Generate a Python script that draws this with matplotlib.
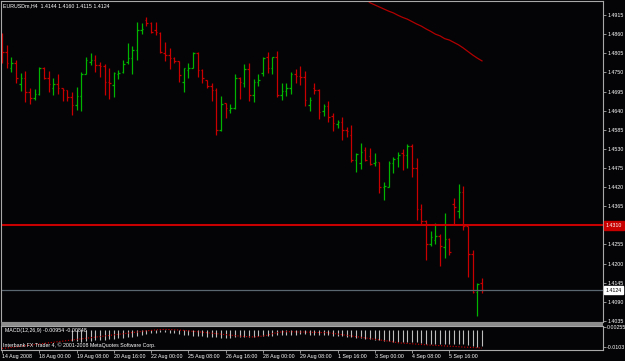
import numpy as np
import matplotlib
matplotlib.use("Agg")
import matplotlib.pyplot as plt
from matplotlib.patches import Rectangle
import matplotlib.transforms as mtransforms

# EURUSDm H4 bars (open, high, low, close)
opens = [1.4829, 1.4809, 1.4763, 1.4777, 1.4717, 1.4734, 1.4694, 1.4676, 1.4688, 1.4763,
         1.4734, 1.4705, 1.4717, 1.4705, 1.4699, 1.4679, 1.4656, 1.4682, 1.4745, 1.4780,
         1.4786, 1.4771, 1.4768, 1.4722, 1.4714, 1.4745, 1.4751, 1.4780, 1.4791, 1.4814,
         1.4872, 1.4901, 1.4892, 1.4872, 1.4863, 1.4806, 1.4800, 1.4791, 1.4783, 1.4722,
         1.4757, 1.4763, 1.4806, 1.4757, 1.4728, 1.4711, 1.4699, 1.4584, 1.4662, 1.4642,
         1.4648, 1.4734, 1.4719, 1.4760, 1.4685, 1.4722, 1.4748, 1.4794, 1.4763, 1.4794,
         1.4685, 1.4696, 1.4705, 1.4745, 1.4740, 1.4737, 1.4656, 1.4705, 1.4699, 1.4639,
         1.4653, 1.4625, 1.4602, 1.4607, 1.4584, 1.4570, 1.4498, 1.4489, 1.4527, 1.4510,
         1.4489, 1.4492, 1.4420, 1.4420, 1.4489, 1.4504, 1.4518, 1.4512, 1.4538, 1.4475,
         1.4357, 1.4323, 1.4256, 1.4268, 1.4279, 1.4248, 1.4271, 1.4371, 1.4351, 1.4406,
         1.4308, 1.4228, 1.4117, 1.4144]
highs = [1.4863, 1.4829, 1.4794, 1.4786, 1.4748, 1.4754, 1.4705, 1.4702, 1.4765, 1.4765,
         1.4754, 1.4734, 1.4745, 1.4705, 1.4699, 1.4694, 1.4708, 1.4751, 1.4794, 1.4806,
         1.4800, 1.4780, 1.4774, 1.4763, 1.4751, 1.4757, 1.4786, 1.4834, 1.4826, 1.4895,
         1.4892, 1.4909, 1.4895, 1.4895, 1.4866, 1.4837, 1.4820, 1.4794, 1.4783, 1.4763,
         1.4777, 1.4809, 1.4809, 1.4760, 1.4728, 1.4719, 1.4705, 1.4682, 1.4662, 1.4659,
         1.4745, 1.4737, 1.4774, 1.4777, 1.4731, 1.4745, 1.4794, 1.4809, 1.4794, 1.4811,
         1.4719, 1.4719, 1.4751, 1.4760, 1.4768, 1.4754, 1.4679, 1.4719, 1.4702, 1.4659,
         1.4668, 1.4633, 1.4613, 1.4622, 1.4593, 1.4599, 1.4518, 1.4547, 1.4535, 1.4533,
         1.4518, 1.4492, 1.4435, 1.4495, 1.4507, 1.4521, 1.4530, 1.4544, 1.4544, 1.4504,
         1.4371, 1.4325, 1.4294, 1.4317, 1.4285, 1.4346, 1.4274, 1.4389, 1.4429, 1.4423,
         1.4308, 1.4239, 1.4144, 1.4160]
lows = [1.4777, 1.4763, 1.4751, 1.4719, 1.4696, 1.4665, 1.4659, 1.4671, 1.4685, 1.4731,
        1.4694, 1.4685, 1.4688, 1.4668, 1.4668, 1.4627, 1.4642, 1.4639, 1.4745, 1.4771,
        1.4751, 1.4737, 1.4685, 1.4673, 1.4679, 1.4731, 1.4748, 1.4774, 1.4745, 1.4786,
        1.4860, 1.4883, 1.4863, 1.4857, 1.4806, 1.4783, 1.4760, 1.4777, 1.4722, 1.4694,
        1.4734, 1.4763, 1.4737, 1.4719, 1.4705, 1.4668, 1.4570, 1.4581, 1.4619, 1.4633,
        1.4645, 1.4673, 1.4708, 1.4668, 1.4665, 1.4711, 1.4740, 1.4748, 1.4745, 1.4679,
        1.4671, 1.4682, 1.4688, 1.4719, 1.4714, 1.4653, 1.4639, 1.4688, 1.4616, 1.4625,
        1.4607, 1.4581, 1.4590, 1.4555, 1.4564, 1.4492, 1.4463, 1.4472, 1.4495, 1.4484,
        1.4481, 1.4403, 1.4383, 1.4420, 1.4461, 1.4478, 1.4469, 1.4475, 1.4449, 1.4325,
        1.4314, 1.4210, 1.4251, 1.4256, 1.4193, 1.4216, 1.4225, 1.4311, 1.4331, 1.4297,
        1.4162, 1.4115, 1.4049, 1.4115]
closes = [1.4809, 1.4777, 1.4777, 1.4734, 1.4734, 1.4694, 1.4676, 1.4688, 1.4763, 1.4734,
          1.4717, 1.4717, 1.4705, 1.4699, 1.4679, 1.4656, 1.4682, 1.4745, 1.4786, 1.4786,
          1.4771, 1.4768, 1.4722, 1.4719, 1.4748, 1.4748, 1.4774, 1.4791, 1.4814, 1.4872,
          1.4875, 1.4892, 1.4866, 1.4866, 1.4809, 1.4800, 1.4791, 1.4783, 1.4742, 1.4763,
          1.4763, 1.4806, 1.4757, 1.4734, 1.4711, 1.4699, 1.4584, 1.4659, 1.4648, 1.4648,
          1.4734, 1.4722, 1.4760, 1.4685, 1.4722, 1.4728, 1.4791, 1.4763, 1.4794, 1.4685,
          1.4696, 1.4705, 1.4745, 1.4740, 1.4737, 1.4671, 1.4671, 1.4699, 1.4636, 1.4653,
          1.4622, 1.4604, 1.4607, 1.4584, 1.4581, 1.4498, 1.4515, 1.4521, 1.4498, 1.4486,
          1.4492, 1.4420, 1.4423, 1.4489, 1.4501, 1.4512, 1.4512, 1.4538, 1.4475, 1.4357,
          1.4323, 1.4256, 1.4277, 1.4279, 1.4251, 1.4271, 1.4233, 1.4363, 1.4406, 1.4308,
          1.4228, 1.4117, 1.4141, 1.4124]

# moving average visible at the top right (bars 78..103)
ma_start = 78
ma_vals = [1.4961, 1.4950, 1.4944, 1.4938, 1.4932, 1.4926, 1.4921, 1.4914, 1.4908, 1.4903,
           1.4896, 1.4889, 1.4883, 1.4875, 1.4868, 1.4860, 1.4855, 1.4847, 1.4843, 1.4836,
           1.4829, 1.4820, 1.4810, 1.4800, 1.4791, 1.4783]

# MACD(12,26,9) panel
macd_hist = [0, 0, 0, 0, 0, 0, 0, 0, 0, 0, 0, 0, 0, 0, 0,
             -0.0065, -0.0068, -0.0070, -0.0068, -0.0065, -0.0062,
             -0.0060, -0.0058, -0.0056, -0.0054, -0.0050, -0.0047, -0.0044, -0.0040, -0.0036, -0.0030,
             -0.0025, -0.0020, -0.0016, -0.0012, -0.0010,
             -0.0015, -0.0020, -0.0025, -0.0030, -0.0032, -0.0034, -0.0036, -0.0038, -0.0040, -0.0042,
             -0.0045, -0.0046, -0.0047, -0.0046, -0.0045, -0.0044, -0.0043, -0.0042, -0.0040, -0.0039,
             -0.0037, -0.0036, -0.0034, -0.0033,
             -0.0032, -0.0030, -0.0029, -0.0028, -0.0027, -0.0027, -0.0028, -0.0029, -0.0030, -0.0031,
             -0.0032,
             -0.0034, -0.0036, -0.0038, -0.0040, -0.0043, -0.0046, -0.0050, -0.0053, -0.0056, -0.0060,
             -0.0063, -0.0066, -0.0068, -0.0070, -0.0071, -0.0072,
             -0.0072, -0.0073, -0.0076, -0.0080, -0.0083, -0.0085, -0.0086, -0.0087, -0.0086, -0.0088,
             -0.0087, -0.0086, -0.0088, -0.0092, -0.0098, -0.0101, -0.0095]
macd_signal = [-0.0112, -0.0110, -0.0106, -0.0103, -0.0099, -0.0096, -0.0092, -0.0089, -0.0085, -0.0082,
               -0.0078, -0.0075, -0.0071, -0.0068, -0.0064, -0.0061, -0.0057, -0.0054, -0.0050, -0.0047,
               -0.0043, -0.0040, -0.0036, -0.0033, -0.0029, -0.0026, -0.0022, -0.0019, -0.0015, -0.0012,
               -0.0008, -0.0005, -0.0002, 0.0001, 0.0003, 0.0004, 0.0003, 0.0002, 0.0000, -0.0002,
               -0.0005, -0.0008, -0.0010, -0.0013, -0.0016, -0.0019, -0.0022, -0.0025, -0.0028, -0.0031,
               -0.0034, -0.0037, -0.0039, -0.0041, -0.0042, -0.0040, -0.0036, -0.0031, -0.0022, -0.0016,
               -0.0011, -0.0010, -0.0010, -0.0011, -0.0012, -0.0012, -0.0013, -0.0014, -0.0015, -0.0015,
               -0.0016, -0.0020, -0.0024, -0.0028, -0.0032, -0.0036, -0.0040, -0.0044, -0.0048, -0.0052,
               -0.0056, -0.0060, -0.0064, -0.0068, -0.0072, -0.0078, -0.0080, -0.0082, -0.0084, -0.0086,
               -0.0088, -0.0090, -0.0092, -0.0094, -0.0095, -0.0097, -0.0099, -0.0100, -0.0102, -0.0104,
               -0.0105, -0.0107, -0.0108, -0.0110]

price_ticks = [1.4915, 1.4860, 1.4805, 1.4750, 1.4695, 1.4640, 1.4585, 1.4530, 1.4475,
               1.4420, 1.4365, 1.4255, 1.4200, 1.4145, 1.4090, 1.4035]
level_price = 1.4310
bid_price = 1.4124

date_labels = ["14 Aug 2008", "18 Aug 00:00", "19 Aug 08:00", "20 Aug 16:00", "22 Aug 00:00",
               "25 Aug 08:00", "26 Aug 16:00", "28 Aug 00:00", "29 Aug 08:00", "1 Sep 16:00",
               "3 Sep 00:00", "4 Sep 08:00", "5 Sep 16:00"]
date_pos = [0, 8, 16, 24, 32, 40, 48, 56, 64, 72, 80, 88, 96]

header = "EURUSDm,H4  1.4144 1.4160 1.4115 1.4124"
macd_text = "MACD(12,26,9) -0.00954 -0.00848"
footer = "Interbank FX Trader 4, \u00a9 2001-2008 MetaQuotes Software Corp."

BG = "#040306"
FG = "white"
FRAME = "#a8a8a8"
GREEN = "#00b400"
RED = "#c80000"
FS = 3.8
plt.rcParams["font.family"] = ["Liberation Sans", "DejaVu Sans"]

W, H = 625, 361
fig = plt.figure(figsize=(W / 100, H / 100), dpi=100, facecolor=BG)


def px_axes(x0, y0, x1, y1):
    # pixel box (top-left origin) -> figure axes
    return fig.add_axes([x0 / W, 1 - y1 / H, (x1 - x0) / W, (y1 - y0) / H])


ax = px_axes(1, 1, 603, 322)
ax2 = px_axes(1, 326, 603, 350)

idx = np.arange(len(opens))
o = np.array(opens)
c = np.array(closes)
cols = [GREEN if cc >= oo else RED for oo, cc in zip(o, c)]

ax.vlines(idx, lows, highs, colors=cols, lw=0.9)
ax.hlines(o, idx - 0.34, idx, colors=cols, lw=0.9)
ax.hlines(c, idx, idx + 0.34, colors=cols, lw=0.9)

ma_idx = np.arange(ma_start, ma_start + len(ma_vals))
ax.plot(ma_idx, ma_vals, color="#b00000", lw=0.9)

ax.axhline(level_price, color=RED, lw=1.5)
ax.axhline(bid_price, color="#5a6670", lw=0.9)

x_lo, x_hi = -0.21, 128.97
ax.set_xlim(x_lo, x_hi)
ax.set_ylim(1.40321, 1.49553)
ax.set_xticks([])
ax.yaxis.tick_right()
ax.set_yticks(price_ticks)
ax.set_yticklabels([f"{p:.4f}" for p in price_ticks])
ax.tick_params(axis="y", colors=FRAME, labelcolor=FG, labelsize=FS, length=2, width=0.6, pad=1)

trans = mtransforms.blended_transform_factory(ax.transAxes, ax.transData)
ax.text(1.004, level_price, "1.4310", transform=trans, ha="left", va="center",
        fontsize=FS, color="white",
        bbox=dict(boxstyle="square,pad=0.35", fc=RED, ec=RED))
ax.text(1.004, bid_price, "1.4124", transform=trans, ha="left", va="center",
        fontsize=FS, color="black",
        bbox=dict(boxstyle="square,pad=0.35", fc="white", ec="white"))

# MACD panel
ax2.vlines(idx, 0, macd_hist, colors="#bdbdbd", lw=0.8)
ax2.plot(idx, macd_signal, color="#d00000", lw=0.8, ls=(0, (1, 1.6)))
ax2.set_xlim(x_lo, x_hi)
ax2.set_ylim(-0.0122, 0.0025)
ax2.yaxis.tick_right()
ax2.set_yticks([0.0021, -0.0103])
ax2.set_yticklabels(["0.00255", "-0.0103"])
ax2.tick_params(axis="y", colors=FRAME, labelcolor=FG, labelsize=FS, length=2, width=0.6, pad=1)
ax2.set_xticks(date_pos)
ax2.set_xticklabels(date_labels)
for lab in ax2.get_xticklabels():
    lab.set_horizontalalignment("left")
ax2.tick_params(axis="x", colors=FRAME, labelcolor=FG, labelsize=FS, length=2.2, width=0.6, pad=0.6)

for a in (ax, ax2):
    a.set_facecolor(BG)
    for s in a.spines.values():
        s.set_color(FRAME)
        s.set_linewidth(0.8)

ax2.text(0.006, 0.83, macd_text, transform=ax2.transAxes, ha="left", va="center",
         fontsize=FS, color=FG)
ax2.text(0.004, 0.2, footer, transform=ax2.transAxes, ha="left", va="center",
         fontsize=FS, color=FG)
ax.text(0.004, 0.985, header, transform=ax.transAxes, ha="left", va="center",
        fontsize=FS, color=FG)

# separator band between the panels
fig.patches.append(Rectangle((1 / W, 1 - 326 / H), 602 / W, 4 / H, transform=fig.transFigure,
                             fc="#8c8c8c", ec="none"))

fig.savefig("out.png", dpi=100, facecolor=BG)
